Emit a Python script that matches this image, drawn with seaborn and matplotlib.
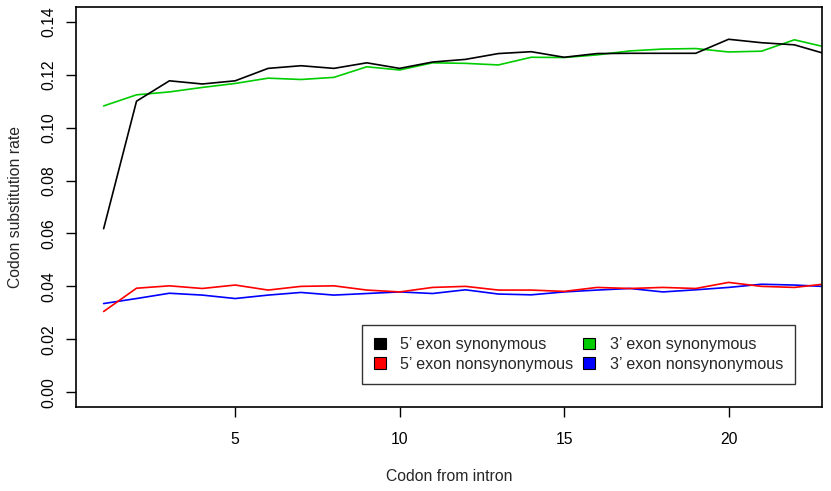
import numpy as np
import pandas as pd
import matplotlib
matplotlib.use("Agg")
import matplotlib.pyplot as plt
import matplotlib.patches as mpatches
import seaborn as sns

# codon position from intron
codon = list(range(1, 24))

syn5 = [0.0618, 0.1100, 0.1177, 0.1165, 0.1177, 0.1224, 0.1234, 0.1224, 0.1245, 0.1224,
        0.1248, 0.1258, 0.1280, 0.1287, 0.1266, 0.1280, 0.1281, 0.1281, 0.1281, 0.1334,
        0.1321, 0.1313, 0.1277]
syn3 = [0.1082, 0.1124, 0.1135, 0.1152, 0.1167, 0.1187, 0.1182, 0.1190, 0.1230, 0.1218,
        0.1245, 0.1243, 0.1237, 0.1266, 0.1265, 0.1275, 0.1290, 0.1297, 0.1299, 0.1286,
        0.1289, 0.1332, 0.1303]
nonsyn5 = [0.0305, 0.0393, 0.0402, 0.0392, 0.0405, 0.0386, 0.0400, 0.0402, 0.0386, 0.0379,
           0.0396, 0.0400, 0.0386, 0.0386, 0.0381, 0.0396, 0.0392, 0.0396, 0.0392, 0.0415,
           0.0400, 0.0396, 0.0410]
nonsyn3 = [0.0335, 0.0354, 0.0374, 0.0367, 0.0354, 0.0367, 0.0377, 0.0367, 0.0373, 0.0379,
           0.0373, 0.0387, 0.0371, 0.0368, 0.0379, 0.0386, 0.0392, 0.0379, 0.0387, 0.0396,
           0.0408, 0.0405, 0.0399]

series = ["5\u2019 exon synonymous", "5\u2019 exon nonsynonymous",
          "3\u2019 exon synonymous", "3\u2019 exon nonsynonymous"]
colors = ["#000000", "#FF0000", "#00CD00", "#0000FF"]

df = pd.concat([
    pd.DataFrame({"codon": codon, "rate": vals, "series": name})
    for name, vals in zip(series, [syn5, nonsyn5, syn3, nonsyn3])
])

sns.set_style("ticks")
plt.rcParams["font.family"] = ["Liberation Sans", "DejaVu Sans"]
plt.rcParams["font.size"] = 11.3

fig = plt.figure(figsize=(8.31, 4.91), dpi=100)
ax = fig.add_axes([76 / 831, 1 - 407 / 491, 746 / 831, 400 / 491])

# draw 3' synonymous first so 5' lines sit on top like the original
order = [series[2], series[3], series[0], series[1]]
for name in order:
    sub = df[df["series"] == name]
    sns.lineplot(data=sub, x="codon", y="rate", color=colors[series.index(name)],
                 linewidth=1.2, ax=ax, legend=False)

ax.set_xlim(0.16, 22.84)
ax.set_ylim(-0.0056, 0.1456)
ax.set_xticks([5, 10, 15, 20])
ax.set_yticks(np.arange(0, 0.141, 0.02))
ax.set_yticklabels([f"{v:.2f}" for v in np.arange(0, 0.141, 0.02)],
                   rotation=90, va="center")
ax.tick_params(direction="out", length=7, width=1, colors="black", labelsize=11.3)
ax.tick_params(axis="x", pad=11)
ax.tick_params(axis="y", pad=7)
for s in ax.spines.values():
    s.set_linewidth(1.2)
    s.set_color("black")

ax.set_xlabel("Codon from intron", fontsize=11.3, labelpad=16)
ax.set_ylabel("Codon substitution rate", fontsize=11.3, labelpad=13)

handles = [mpatches.Patch(facecolor=c, edgecolor="black", linewidth=0.8) for c in colors]
leg = ax.legend(handles, series, ncol=2, loc="lower right",
                bbox_to_anchor=(0.964, 0.0575), frameon=True, fancybox=False,
                fontsize=11.6, handlelength=0.75, handleheight=0.75, handletextpad=0.9,
                columnspacing=0.6, labelspacing=0.3, borderpad=0.75, borderaxespad=0)
leg.get_frame().set_edgecolor("black")
leg.get_frame().set_linewidth(1.0)

fig.savefig("out.png", dpi=100)
